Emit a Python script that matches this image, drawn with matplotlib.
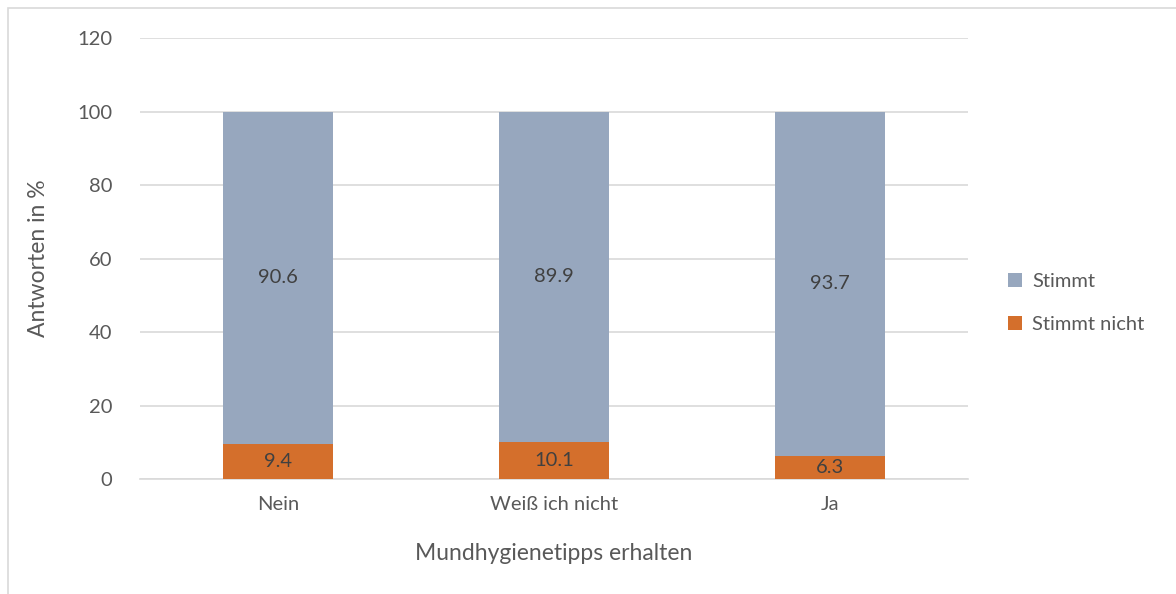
import matplotlib.pyplot as plt
from matplotlib.patches import Rectangle

categories = ["Nein", "Weiß ich nicht", "Ja"]
stimmt_nicht = [9.4, 10.1, 6.3]
stimmt = [90.6, 89.9, 93.7]

plt.rcParams['font.family'] = ['Lato', 'DejaVu Sans']

grey = '#97A7BE'
orange = '#D46F2C'
txt = '#595959'

fig = plt.figure(figsize=(11.76, 5.94), dpi=100)
ax = fig.add_axes([0.119, 0.1936, 0.704, 0.7424])

# frame around chart area (only left/top visible in the reference)
fig.patches.append(Rectangle((8 / 1176, -0.1), 1.2, 1 - 8 / 594 + 0.1,
                             transform=fig.transFigure, fill=False,
                             edgecolor='#D9D9D9', linewidth=1.2))

x = list(range(len(categories)))
b1 = ax.bar(x, stimmt_nicht, width=0.4, color=orange, label='Stimmt nicht', zorder=3)
b2 = ax.bar(x, stimmt, width=0.4, bottom=stimmt_nicht, color=grey, label='Stimmt', zorder=3)

for i in x:
    ax.text(i, stimmt_nicht[i] / 2, f"{stimmt_nicht[i]:.1f}", ha='center', va='center',
            fontsize=14.5, color='#404040', zorder=4)
    ax.text(i, stimmt_nicht[i] + stimmt[i] / 2, f"{stimmt[i]:.1f}", ha='center', va='center',
            fontsize=14.5, color='#404040', zorder=4)

ax.set_xlim(-0.5, 2.5)
ax.set_ylim(0, 120)
ax.set_yticks(range(0, 121, 20))
ax.set_xticks(x)
ax.set_xticklabels(categories)
ax.yaxis.grid(True, color='#D9D9D9', linewidth=1.2, zorder=0)
for s in ['top', 'right', 'left']:
    ax.spines[s].set_visible(False)
ax.spines['bottom'].set_color('#D9D9D9')
ax.spines['bottom'].set_linewidth(1.2)
ax.tick_params(axis='both', length=0, labelsize=14.5, labelcolor=txt)
ax.tick_params(axis='y', pad=20)
ax.tick_params(axis='x', pad=12)

ax.set_ylabel('Antworten in %', fontsize=16.5, color=txt, labelpad=20)
ax.set_xlabel('Mundhygienetipps erhalten', fontsize=16.5, color=txt, labelpad=22)

ax.legend(handles=[b2, b1], loc='center left', bbox_to_anchor=(1.027, 0.399),
          frameon=False, fontsize=14.5, labelcolor=txt, handlelength=0.7,
          handleheight=0.7, labelspacing=1.3, handletextpad=0.5)

fig.savefig('out.png', dpi=100)
